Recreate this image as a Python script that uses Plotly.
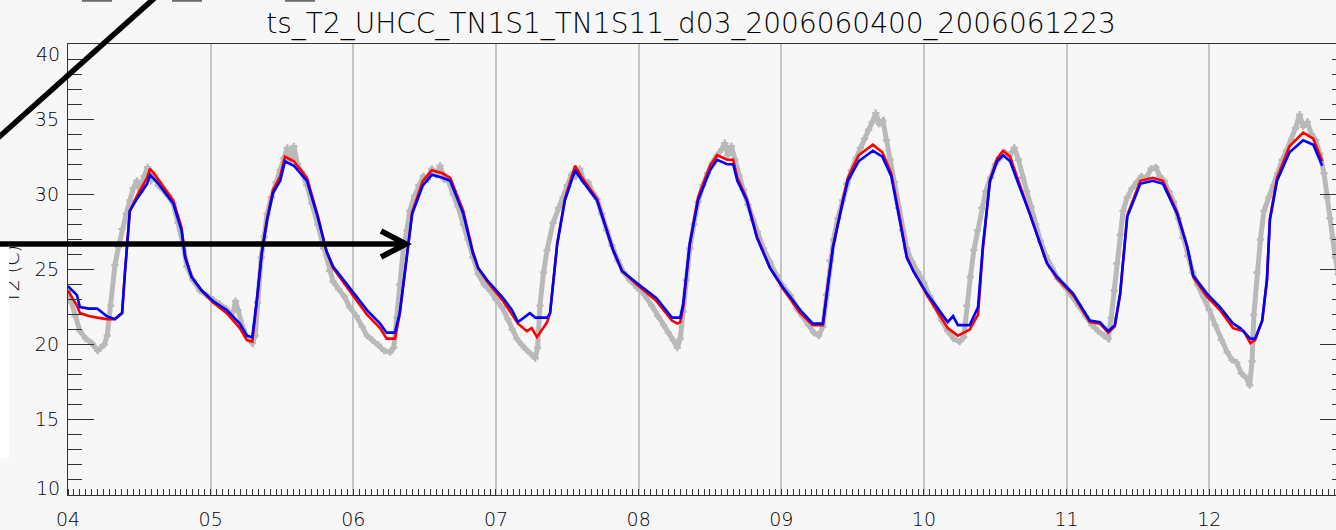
import plotly.graph_objects as go

# ---- data: hours since 2006-06-04 00 UTC, 2 m temperature (C) ----
hours_blue = [0, 1.5, 2.0, 3.5, 4.9, 6.5, 7.9, 9.1, 9.6, 10.4, 11.6, 13.3, 13.8, 15.0, 17.7, 19.1, 19.7, 20.8,
              22.5, 24.4, 26.7, 28.9, 30.1, 31.0, 31.8, 32.6, 33.5, 34.5, 35.7, 36.5, 38.0, 40.2, 42.0, 43.5,
              44.6, 47.4, 50.3, 52.5, 53.6, 55.0, 55.8, 56.7, 57.9, 59.7, 61.2, 63.0, 64.3, 66.5, 68.1, 69.0,
              70.5, 73.2, 74.7, 75.7, 77.7, 78.6, 80.6, 81.1, 82.3, 83.6, 85.3, 86.5, 89.0, 91.7, 93.2, 95.7,
              99.0, 101.6, 103.0, 103.5, 104.6, 106.0, 108.0, 109.2, 110.9, 111.9, 112.6, 114.2, 115.9, 118.1,
              120.3, 123.2, 125.3, 127.0, 127.7, 128.7, 130.4, 131.2, 133.0, 135.4, 137.0, 138.5, 140.0, 141.1,
              142.2, 144.5, 148.0, 148.9, 149.7, 151.7, 153.1, 153.9, 155.1, 156.3, 157.3, 158.5, 159.7, 161.8,
              164.7, 166.4, 169.1, 171.9, 173.6, 175.0, 176.1, 177.0, 178.2, 180.4, 182.5, 184.2, 186.6, 188.3,
              189.3, 191.6, 193.8, 196.0, 197.2, 198.9, 199.7, 200.9, 201.7, 202.2, 203.4, 205.5, 207.8, 209.5,
              211.0]
temp_blue = [23.9, 23.3, 22.5, 22.4, 22.4, 21.9, 21.7, 22.1, 24.9, 28.9, 29.7, 30.7, 31.3, 30.8, 29.4, 27.6, 25.8, 24.5,
             23.6, 22.9, 22.3, 21.4, 20.6, 20.5, 23.1, 26.1, 28.3, 30.1, 30.9, 32.2, 31.9, 30.9, 28.5, 26.2,
             25.2, 23.8, 22.3, 21.4, 20.8, 20.8, 22.1, 24.9, 28.7, 30.6, 31.3, 31.1, 30.9, 28.7, 26.1, 25.1,
             24.3, 23.1, 22.3, 21.5, 22.1, 21.8, 21.8, 22.1, 26.7, 29.6, 31.6, 30.9, 29.6, 26.3, 24.9, 24.1,
             23.1, 21.8, 21.8, 22.7, 26.7, 29.6, 31.6, 32.3, 32.0, 32.0, 30.9, 29.6, 27.1, 25.1,
             23.8, 22.3, 21.4, 21.4, 23.6, 26.5, 29.6, 30.9, 32.2, 32.9, 32.5, 31.2, 28.1, 25.8,
             24.9, 23.4, 21.5, 21.9, 21.3, 21.3, 22.5, 26.5, 30.9, 32.2, 32.6, 32.2, 30.9, 28.7,
             25.4, 24.5, 23.4, 21.6, 21.5, 20.9, 21.3, 23.4, 28.5, 30.7, 30.9, 30.7, 28.7, 26.5,
             24.6, 23.4, 22.5, 21.4, 21.1, 20.4, 20.4, 21.6, 24.3, 28.3, 30.9, 32.8, 33.6, 33.3,
             31.9]

hours_red = [0, 1.5, 2.0, 3.5, 4.9, 6.5, 7.9, 9.1, 9.6, 10.4, 11.6, 13.3, 13.8, 15.0, 17.7, 19.1, 19.7, 20.8,
             22.5, 24.4, 26.7, 28.9, 30.1, 31.0, 31.8, 32.6, 33.5, 34.5, 35.7, 36.5, 38.0, 40.2, 42.0, 43.5,
             44.6, 47.4, 50.3, 52.5, 53.6, 55.0, 55.8, 56.7, 57.9, 59.7, 61.2, 63.0, 64.3, 66.5, 68.1, 69.0,
             70.5, 73.2, 74.7, 75.7, 77.2, 78.0, 78.9, 80.6, 81.1, 82.3, 83.6, 85.3, 86.5, 89.0, 91.7, 93.2, 95.7,
             99.0, 101.6, 102.5, 103.0, 103.5, 104.6, 106.0, 108.0, 109.2, 110.9, 111.9, 112.6, 114.2, 115.9, 118.1,
             120.3, 123.2, 125.3, 127.0, 127.7, 128.7, 130.4, 131.2, 133.0, 135.4, 137.0, 138.5, 140.0, 141.1,
             142.2, 144.5, 148.0, 149.7, 151.7, 153.1, 153.9, 155.1, 156.3, 157.3, 158.5, 159.7, 161.8,
             164.7, 166.4, 169.1, 171.9, 173.6, 175.0, 176.1, 177.0, 178.2, 180.4, 182.5, 184.2, 186.6, 188.3,
             189.3, 191.6, 193.8, 196.0, 197.8, 198.9, 199.7, 200.9, 201.7, 202.2, 203.4, 205.5, 207.8, 209.5,
             211.0]
temp_red = [23.6, 22.6, 22.1, 21.9, 21.8, 21.7, 21.7, 22.1, 24.9, 28.9, 29.9, 31.1, 31.7, 31.1, 29.6, 27.8, 25.9, 24.5,
            23.6, 22.8, 22.1, 21.1, 20.3, 20.2, 23.0, 26.1, 28.4, 30.3, 31.2, 32.5, 32.2, 31.1, 28.6, 26.2,
            25.1, 23.6, 22.0, 21.1, 20.4, 20.4, 22.0, 24.9, 28.8, 30.9, 31.6, 31.4, 31.1, 28.9, 26.2, 25.1,
            24.2, 22.9, 22.0, 21.4, 20.9, 21.1, 20.5, 21.5, 22.1, 26.7, 29.7, 31.9, 31.1, 29.7, 26.3, 24.9, 24.0,
            22.9, 21.6, 21.4, 21.5, 22.5, 26.7, 29.8, 31.9, 32.6, 32.3, 32.3, 31.1, 29.7, 27.2, 25.1,
            23.7, 22.1, 21.3, 21.3, 23.6, 26.5, 29.7, 31.1, 32.6, 33.3, 32.8, 31.4, 28.3, 25.9,
            24.9, 23.3, 21.1, 20.6, 21.0, 22.0, 26.3, 30.9, 32.4, 32.9, 32.5, 31.1, 28.8,
            25.4, 24.4, 23.3, 21.5, 21.4, 20.8, 21.2, 23.3, 28.6, 30.9, 31.1, 30.9, 28.8, 26.5,
            24.5, 23.2, 22.3, 21.1, 20.9, 20.1, 20.3, 21.6, 24.3, 28.4, 31.1, 33.2, 34.1, 33.7,
            32.2]

hours_obs = [0, 0.6, 1.2, 2.0, 3.0, 4.0, 5.0, 5.5, 6.1, 6.6, 7.2, 7.9, 8.5, 9.1, 9.8, 10.4, 11.0, 11.6, 12.2,
             12.8, 13.4, 14.0, 14.6, 15.2, 16.0, 16.8, 17.7, 18.5, 19.4, 20.0, 21.0, 22.2, 23.3, 24.4, 25.5,
             26.6, 27.4, 27.8, 28.2, 28.6, 28.9, 29.5, 30.1, 31.0, 31.5, 31.9, 32.5, 33.0, 33.5, 34.2, 35.0,
             35.7, 36.3, 36.9, 37.5, 38.0, 38.6, 39.3, 40.2, 41.0, 42.0, 43.0, 44.0, 44.6, 45.5, 46.5, 47.4,
             48.5, 49.5, 50.3, 51.2, 52.2, 53.2, 54.2, 54.8, 55.3, 55.8, 56.4, 57.0, 57.5, 58.3, 59.0, 59.8,
             60.5, 61.2, 62.0, 62.6, 63.3, 64.0, 64.8, 65.6, 66.5, 67.3, 68.1, 69.0, 70.0, 71.0, 72.0, 73.0,
             74.0, 74.7, 75.5, 76.3, 77.0, 77.8, 78.6, 79.0, 79.4, 80.0, 80.6, 81.6, 82.5, 83.3, 84.0, 84.7,
             85.4, 86.1, 86.8, 87.5, 88.3, 89.0, 89.8, 90.6, 91.5, 92.5, 93.5, 94.5, 95.7, 97.0, 98.2, 99.2,
             100.2, 101.0, 101.8, 102.5, 103.0, 103.5, 104.0, 104.6, 105.3, 106.0, 106.8, 107.6, 108.4, 109.2,
             110.0, 110.5, 111.0, 111.6, 112.2, 112.9, 113.6, 114.4, 115.2, 116.0, 117.0, 118.1, 119.2, 120.3,
             121.5, 122.6, 123.6, 124.6, 125.5, 126.3, 127.0, 127.6, 128.2, 128.8, 129.5, 130.3, 131.0, 131.8,
             132.6, 133.3, 134.0, 134.7, 135.3, 135.9, 136.5, 137.1, 137.7, 138.3, 139.0, 139.7, 140.4, 141.1,
             142.0, 143.0, 144.0, 145.0, 146.0, 147.0, 148.0, 149.0, 150.0, 150.7, 151.2, 151.8, 152.4, 153.0,
             153.7, 154.4, 155.2, 156.0, 156.8, 157.6, 158.4, 159.2, 159.9, 160.6, 161.3, 162.0, 162.8, 163.6,
             164.5, 165.5, 166.5, 167.6, 168.8, 170.0, 171.2, 172.3, 173.3, 174.3, 175.0, 175.5, 176.0, 176.4,
             177.0, 177.5, 178.2, 179.0, 179.8, 180.6, 181.4, 182.2, 183.0, 183.7, 184.4, 185.2, 186.0, 186.8,
             187.6, 188.4, 189.2, 190.0, 191.0, 192.0, 193.0, 194.0, 195.0, 195.8, 196.6, 197.4, 198.2, 198.8,
             199.2, 199.5, 200.0, 200.6, 201.2, 202.0, 202.8, 203.5, 204.3, 205.0, 205.8, 206.5, 207.2, 207.8,
             208.5, 209.2, 209.9, 210.6, 211.3, 211.8, 212.3, 212.8, 213.2, 213.7, 214.3]
temp_obs = [23.6, 22.8, 21.9, 20.9, 20.4, 20.1, 19.6, 19.8, 20.0, 20.6, 22.6, 25.3, 26.5, 27.7, 28.7, 29.6, 30.4, 30.9, 30.2,
            31.2, 31.8, 30.9, 31.3, 30.6, 30.3, 29.9, 29.4, 28.1, 26.6, 25.2, 24.3, 23.6, 23.3, 23.0, 22.7,
            22.4, 22.0, 22.2, 22.9, 22.3, 21.6, 21.0, 20.5, 20.1, 20.6, 22.8, 25.8, 27.2, 28.7, 29.8, 30.8,
            31.6, 32.4, 33.1, 32.3, 33.2, 32.0, 31.5, 30.6, 29.4, 28.0, 26.4, 24.9, 24.2, 23.7, 23.2, 22.5,
            21.9, 21.2, 20.6, 20.3, 20.0, 19.6, 19.5, 19.8, 21.8, 24.0, 26.3, 27.6, 28.9, 29.9, 30.6, 31.2,
            31.0, 31.7, 31.3, 31.9, 31.0, 30.9, 30.0, 29.2, 28.0, 27.0, 25.8, 24.7, 24.0, 23.6, 23.0, 22.5,
            21.7, 21.0, 20.4, 20.0, 19.7, 19.4, 19.1, 19.8, 22.6, 24.8, 26.3, 28.1, 29.1, 29.8, 30.6, 31.3,
            31.2, 31.7, 30.9, 30.8, 30.1, 29.7, 28.7, 27.6, 26.6, 25.6, 24.8, 24.3, 23.8, 23.3, 22.6, 21.9,
            21.3, 20.8, 20.3, 19.8, 20.4, 22.2, 24.3, 26.4, 28.0, 29.5, 30.6, 31.4, 32.1, 32.6,
            33.0, 33.4, 32.6, 33.2, 32.3, 31.2, 30.3, 29.3, 28.3, 27.5, 26.4, 25.5, 24.6, 23.9,
            23.3, 22.4, 21.9, 21.3, 20.8, 20.6, 21.2, 23.3, 25.6, 27.0, 28.4, 29.6, 30.7, 31.6,
            32.4, 33.1, 33.7, 34.3, 34.8, 35.4, 34.7, 34.9, 33.6, 32.3, 30.8, 29.1, 27.6, 26.4,
            25.5, 24.8, 24.1, 23.2, 22.5, 21.6, 20.9, 20.4, 20.2, 20.5, 22.6, 24.5, 26.3, 27.6,
            29.1, 30.2, 31.1, 32.0, 32.4, 32.8, 32.6, 33.1, 32.3, 31.1, 30.2, 29.2, 28.0, 26.9,
            25.9, 25.1, 24.4, 23.9, 23.3, 22.6, 21.9, 21.3, 20.9, 20.6, 20.4, 21.8, 23.6, 25.4,
            27.3, 28.9, 29.8, 30.4, 30.8, 31.2, 31.1, 31.7, 31.8, 31.2, 30.9, 30.2, 29.5, 28.4,
            27.1, 25.9, 24.8, 24.0, 23.2, 22.3, 21.3, 20.3, 19.5, 19.0, 18.8, 18.1, 17.8, 17.3,
            18.9, 22.0, 24.8, 27.0, 28.9, 29.8, 30.6, 31.4, 32.3, 32.9, 33.6, 34.4, 35.3, 34.5,
            34.8, 34.0, 33.6, 32.7, 31.4, 29.8, 28.4, 27.1, 25.8, 24.7, 23.8]

day_ticks = [0, 24, 48, 72, 96, 120, 144, 168, 192]
day_labels = ["04", "05", "06", "07", "08", "09", "10", "11", "12"]
y_ticks = [10, 15, 20, 25, 30, 35, 40]
y_labels = ["", "15", "20", "25", "30", "35", ""]

TITLE = "ts_T2_UHCC_TN1S1_TN1S11_d03_2006060400_2006061223"

# ---- page geometry (pixels) ----
FIG_W, FIG_H = 1400, 530
ML, MR, MT, MB = 68, 54, 44, 35
PW = FIG_W - ML - MR
PH = FIG_H - MT - MB


def px(x):
    return (x - ML) / PW


def py(y):
    return (FIG_H - MB - y) / PH


FONT = "DejaVu Sans"
INK = "#000000"
AXIS = "#333333"
LABEL_FONT = dict(family=FONT, size=19, color=INK, weight=300)

fig = go.Figure()
fig.add_trace(go.Scatter(
    x=hours_obs, y=temp_obs, mode="lines+markers",
    line=dict(color="#B9B9B9", width=5),
    marker=dict(symbol="cross", size=6, color="#B9B9B9"),
    showlegend=False, hoverinfo="skip"))
fig.add_trace(go.Scatter(
    x=hours_red, y=temp_red, mode="lines",
    line=dict(color="#FF0000", width=2.6), showlegend=False))
fig.add_trace(go.Scatter(
    x=hours_blue, y=temp_blue, mode="lines",
    line=dict(color="#0000FF", width=2.6), showlegend=False))

black = dict(color="black", width=5.5)
shapes = [
    # diagonal stroke across the upper-left corner
    dict(type="line", xref="paper", yref="paper",
         x0=px(159), y0=py(-6), x1=px(-6), y1=py(141.5), line=black, layer="above"),
    # horizontal arrow
    dict(type="line", xref="paper", yref="paper",
         x0=px(-6), y0=py(244), x1=px(403), y1=py(244), line=black, layer="above"),
    dict(type="path", xref="paper", yref="paper",
         path=f"M {px(381)} {py(231)} L {px(406)} {py(244)} L {px(381)} {py(257)}",
         line=black, layer="above"),
]
for a, b in [(82, 112), (172, 202), (285, 315)]:
    shapes.append(dict(type="line", xref="paper", yref="paper",
                       x0=px(a), y0=py(0.8), x1=px(b), y1=py(0.8),
                       line=dict(color="#6E6E6E", width=2), layer="above"))

annotations = [
    # end labels of the y axis, nudged inward like the plotting package does
    dict(text="40", x=0, xref="paper", y=40, yref="y", xanchor="right", yanchor="middle",
         xshift=-6, yshift=-10, showarrow=False, font=LABEL_FONT),
    dict(text="10", x=0, xref="paper", y=10, yref="y", xanchor="right", yanchor="middle",
         xshift=-6, yshift=7, showarrow=False, font=LABEL_FONT),
    # y-axis title
    dict(text="T2 (C)", x=px(12), xref="paper", y=py(274), yref="paper", textangle=-90,
         xanchor="center", yanchor="middle", showarrow=False, font=LABEL_FONT),
    # white panel over the left edge
    dict(text=" ", x=px(0), xref="paper", y=py(247), yref="paper", xanchor="left", yanchor="top",
         width=9, height=211, bgcolor="#FFFFFF", borderpad=0, borderwidth=0, showarrow=False,
         font=dict(size=2)),
]

fig.update_layout(
    width=FIG_W, height=FIG_H,
    margin=dict(l=ML, r=MR, t=MT, b=MB, pad=0, autoexpand=False),
    paper_bgcolor="#F7F7F7", plot_bgcolor="#F7F7F7",
    font=LABEL_FONT,
    title=dict(text=TITLE, x=px(691), xref="paper", xanchor="center",
               y=1 - 23 / FIG_H, yref="container", yanchor="middle",
               font=dict(family=FONT, size=28, color=INK, weight=300)),
    xaxis=dict(range=[0, 215], tickmode="array", tickvals=day_ticks, ticktext=day_labels,
               ticks="", showgrid=True, gridcolor="#C4C4C4", gridwidth=1.5, automargin=False,
               showline=True, mirror=True, linecolor=AXIS, linewidth=1.3, zeroline=False,
               ticklabelstandoff=7,
               minor=dict(tickmode="linear", tick0=0, dtick=1, ticks="inside", ticklen=6,
                          tickcolor=AXIS, tickwidth=1, showgrid=False),
               tickfont=LABEL_FONT),
    yaxis=dict(range=[10, 40], tickmode="array", tickvals=y_ticks, ticktext=y_labels,
               ticks="inside", ticklen=26, tickwidth=1.3, tickcolor=AXIS, automargin=False,
               showline=True, mirror="ticks", linecolor=AXIS, linewidth=1.3,
               showgrid=False, zeroline=False, ticklabelstandoff=4,
               minor=dict(tickmode="linear", tick0=10, dtick=1, ticks="inside", ticklen=14,
                          tickcolor=AXIS, tickwidth=1.2, showgrid=False),
               tickfont=LABEL_FONT),
    shapes=shapes,
    annotations=annotations,
)

page_js = (
    "var gd=document.getElementById('{plot_id}');"
    "document.documentElement.style.overflow='hidden';"
    "document.body.style.overflow='hidden';document.body.style.margin='0';"
    "gd.parentElement.style.width='1336px';gd.parentElement.style.overflow='hidden';"
)
fig.write_html("out.html", post_script=page_js)
